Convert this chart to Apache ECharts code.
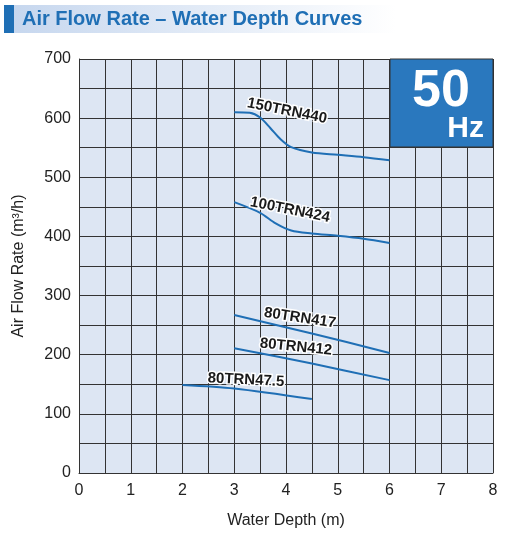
<!DOCTYPE html>
<html><head><meta charset="utf-8">
<script src="https://cdn.jsdelivr.net/npm/echarts@6/dist/echarts.min.js"></script>
<style>html,body{margin:0;padding:0;background:#fff}#c{width:512px;height:542px}</style>
</head><body><div id="c"></div>
<script>
// data
var depth150 = [3, 3.3, 3.5, 3.7, 3.9, 4.1, 4.5, 5, 5.5, 6];
var flow150 = [610, 609, 601, 583, 564, 551, 542, 538, 534, 529];
var depth100 = [3, 3.5, 3.8, 4.1, 4.5, 5, 5.5, 6];
var flow100 = [458, 440, 422, 410, 405, 401, 396, 389];
var depth417 = [3, 4.5, 6];
var flow417 = [267, 236, 203];
var depth412 = [3, 4.5, 6];
var flow412 = [211, 185, 157];
var depth475 = [2, 3, 4.5];
var flow475 = [149, 143, 125];

function pairs(xs, ys) { return xs.map(function (x, i) { return [x, ys[i]]; }); }

var myChart = echarts.init(document.getElementById('c'));
var lineColor = '#1f6fb5';
function curve(name, xs, ys) {
    return {
        name: name, type: 'line', smooth: 0.3, symbol: 'none',
        lineStyle: { color: lineColor, width: 2 },
        data: pairs(xs, ys)
    };
}
function tag(text, x, y, rot) {
    return {
        type: 'text', x: x, y: y, rotation: rot, z: 100,
        style: {
            text: text, fill: '#1a1a1a', font: 'bold 15px Arial, Liberation Sans',
            stroke: '#fff', lineWidth: 3, align: 'center', verticalAlign: 'middle'
        }
    };
}
var option = {
    animation: false,
    grid: { left: 79, right: 19, top: 59, bottom: 69 },
    xAxis: {
        type: 'value', min: 0, max: 8, interval: 0.5,
        name: 'Water Depth (m)', nameLocation: 'middle', nameGap: 40,
        nameTextStyle: { color: '#222', fontSize: 16, fontFamily: 'Arial' },
        axisLine: { lineStyle: { color: '#333' } },
        axisTick: { show: false },
        axisLabel: {
            color: '#222', fontSize: 16, fontFamily: 'Arial', margin: 10,
            formatter: function (v) { return v % 1 === 0 ? v : ''; }
        },
        splitLine: { show: true, lineStyle: { color: '#333', width: 1 } }
    },
    yAxis: {
        type: 'value', min: 0, max: 700, interval: 50,
        name: 'Air Flow Rate (m³/h)', nameLocation: 'middle', nameGap: 52,
        nameTextStyle: { color: '#222', fontSize: 16, fontFamily: 'Arial' },
        axisLine: { show: true, lineStyle: { color: '#333' } },
        axisTick: { show: false },
        axisLabel: {
            color: '#222', fontSize: 16, fontFamily: 'Arial', margin: 8,
            formatter: function (v) { return v % 100 === 0 ? v : ''; }
        },
        splitLine: { show: true, lineStyle: { color: '#333', width: 1 } },
        splitArea: { show: true, areaStyle: { color: ['#dde6f3', '#dde6f3'] } }
    },
    series: [
        curve('150TRN440', depth150, flow150),
        curve('100TRN424', depth100, flow100),
        curve('80TRN417', depth417, flow417),
        curve('80TRN412', depth412, flow412),
        curve('80TRN47.5', depth475, flow475)
    ],
    graphic: [
        { type: 'rect', z: 100, shape: { x: 4, y: 5, width: 392, height: 28 },
          style: { fill: new echarts.graphic.LinearGradient(0, 0, 1, 0, [
              { offset: 0, color: '#c5d6ee' }, { offset: 1, color: '#ffffff' }]) } },
        { type: 'rect', z: 100, shape: { x: 4, y: 5, width: 10, height: 28 }, style: { fill: '#1f6fb5' } },
        { type: 'text', z: 100, x: 22, y: 19, style: { text: 'Air Flow Rate – Water Depth Curves',
          fill: '#1f6fb5', font: 'bold 20px Arial, Liberation Sans', verticalAlign: 'middle' } },
        { type: 'rect', z: 100, shape: { x: 390, y: 59, width: 103, height: 88 },
          style: { fill: '#2a78be', stroke: '#333', lineWidth: 1 } },
        { type: 'text', z: 101, x: 441, y: 92, style: { text: '50', fill: '#fff',
          font: 'bold 52px Arial, Liberation Sans', align: 'center', verticalAlign: 'middle' } },
        { type: 'text', z: 101, x: 484, y: 129, style: { text: 'Hz', fill: '#fff',
          font: 'bold 30px Arial, Liberation Sans', align: 'right', verticalAlign: 'middle' } },
        tag('150TRN440', 287, 111, -0.2),
        tag('100TRN424', 290, 210, -0.2),
        tag('80TRN417', 300, 318, -0.15),
        tag('80TRN412', 296, 347, -0.1),
        tag('80TRN47.5', 246, 380, -0.05)
    ]
};
myChart.setOption(option);
</script></body></html>
